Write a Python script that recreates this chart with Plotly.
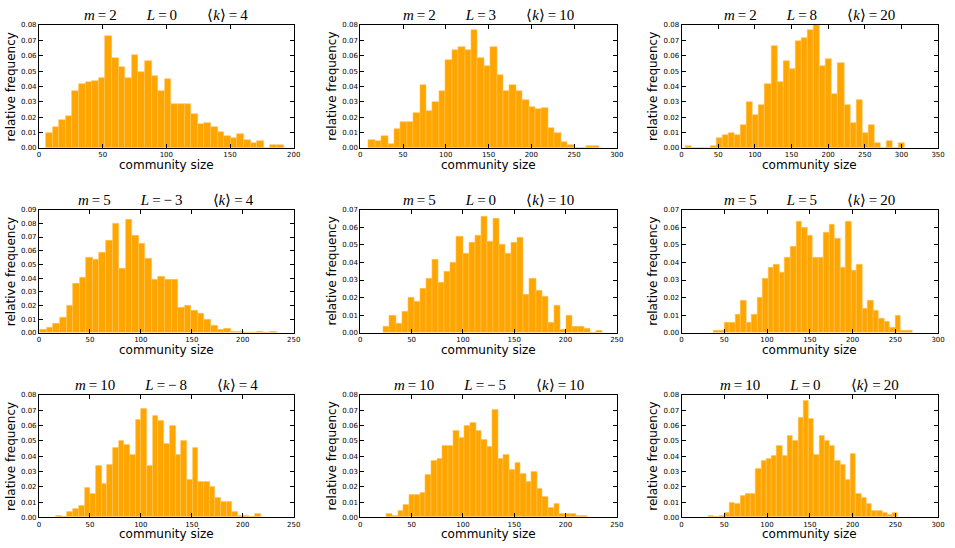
import plotly.graph_objects as go

# relative frequency per bin (36 bins each)
freq_m2_k4 = [0.0096, 0.0135, 0.018, 0.021, 0.037, 0.0413, 0.0428, 0.0436, 0.0458, 0.073,
              0.0586, 0.0526, 0.0458, 0.0607, 0.0494, 0.0563, 0.0466, 0.0368, 0.0449, 0.0287,
              0.0287, 0.0287, 0.0218, 0.0158, 0.0165, 0.0135, 0.0105, 0.0075, 0.0066, 0.009,
              0.0053, 0.003, 0.0047, 0.0, 0.0021, 0.0021]
freq_m2_k10 = [0.0053, 0.0043, 0.008, 0.0027, 0.012, 0.017, 0.017, 0.0225, 0.041, 0.024,
               0.030, 0.037, 0.057, 0.0635, 0.066, 0.0635, 0.077, 0.0585, 0.053, 0.066,
               0.0475, 0.037, 0.041, 0.037, 0.031, 0.0265, 0.025, 0.026, 0.013, 0.010,
               0.0037, 0.0021, 0.0, 0.0, 0.0011, 0.0011]
freq_m2_k20 = [0.0015, 0.0, 0.0, 0.0, 0.0015, 0.0065, 0.0083, 0.0098, 0.0083, 0.015,
               0.030, 0.0215, 0.028, 0.0415, 0.0665, 0.043, 0.0565, 0.0515, 0.0695, 0.0715,
               0.0765, 0.080, 0.053, 0.058, 0.035, 0.055, 0.028, 0.0165, 0.0315, 0.010,
               0.015, 0.0033, 0.0, 0.0048, 0.0, 0.0033]
freq_m5_k4 = [0.002, 0.0035, 0.0065, 0.011, 0.020, 0.036, 0.040, 0.055, 0.0535, 0.0585,
              0.0675, 0.080, 0.047, 0.0825, 0.071, 0.0655, 0.054, 0.0385, 0.041, 0.0385,
              0.0385, 0.0185, 0.0195, 0.016, 0.014, 0.0095, 0.005, 0.002, 0.003, 0.001,
              0.001, 0.0, 0.0, 0.001, 0.0, 0.001]
freq_m5_k10 = [0.0035, 0.0095, 0.005, 0.012, 0.020, 0.018, 0.025, 0.031, 0.0415, 0.0285,
               0.0345, 0.040, 0.0545, 0.045, 0.051, 0.0555, 0.066, 0.052, 0.065, 0.050,
               0.045, 0.051, 0.054, 0.0215, 0.031, 0.024, 0.0205, 0.006, 0.0155, 0.0018,
               0.0095, 0.0037, 0.0037, 0.0022, 0.0, 0.0011]
freq_m5_k20 = [0.0015, 0.0015, 0.006, 0.006, 0.0105, 0.0185, 0.006, 0.0105, 0.020, 0.031,
               0.037, 0.0385, 0.034, 0.043, 0.049, 0.063, 0.060, 0.0555, 0.043, 0.043,
               0.057, 0.0615, 0.0535, 0.037, 0.063, 0.0355, 0.0385, 0.014, 0.0185, 0.0125,
               0.008, 0.0065, 0.0032, 0.0095, 0.0015, 0.0015]
freq_m10_k4 = [0.001, 0.0, 0.0035, 0.0055, 0.0075, 0.019, 0.0155, 0.0335, 0.022, 0.034,
               0.0455, 0.050, 0.0475, 0.041, 0.064, 0.071, 0.0335, 0.0665, 0.063, 0.048,
               0.060, 0.041, 0.050, 0.0245, 0.0455, 0.0235, 0.0235, 0.020, 0.0125, 0.010,
               0.010, 0.0035, 0.0011, 0.0011, 0.0, 0.0022]
freq_m10_k10 = [0.002, 0.001, 0.0045, 0.008, 0.015, 0.015, 0.016, 0.0275, 0.037, 0.038,
                0.047, 0.047, 0.0565, 0.052, 0.060, 0.062, 0.0565, 0.0505, 0.046, 0.0705,
                0.038, 0.0405, 0.031, 0.0355, 0.0285, 0.023, 0.030, 0.0185, 0.0135, 0.0065,
                0.0085, 0.002, 0.002, 0.002, 0.001, 0.001]
freq_m10_k20 = [0.0011, 0.0, 0.0011, 0.0027, 0.0095, 0.0085, 0.014, 0.0155, 0.0155, 0.0315,
                0.037, 0.038, 0.040, 0.047, 0.040, 0.053, 0.050, 0.065, 0.076, 0.0645,
                0.041, 0.0535, 0.050, 0.047, 0.037, 0.0345, 0.0245, 0.0415, 0.0155, 0.0125,
                0.0085, 0.004, 0.004, 0.003, 0.0015, 0.0027]

# first bin edge and bin width (community size units)
bin_start = [5.45, 9.7, 5.9, 1.3, 22.8, 37.0, 16.8, 25.7, 31.7]
bin_width = [5.18, 7.5, 8.3, 6.44, 5.93, 6.46, 5.58, 5.43, 6.15]

m_vals = [2, 2, 2, 5, 5, 5, 10, 10, 10]
L_vals = [0, 3, 8, -3, 0, 5, -8, -5, 0]
k_vals = [4, 10, 20, 4, 10, 20, 4, 10, 20]
x_max = [200, 300, 350, 250, 250, 300, 250, 250, 300]
y_max = [0.08, 0.08, 0.08, 0.09, 0.07, 0.07, 0.08, 0.08, 0.08]

all_freq = [freq_m2_k4, freq_m2_k10, freq_m2_k20,
            freq_m5_k4, freq_m5_k10, freq_m5_k20,
            freq_m10_k4, freq_m10_k10, freq_m10_k20]

W, H = 955, 548
col_px = [(37.3, 294.5), (361.7, 620.7), (686.0, 945.0)]
row_px = [(21.3, 146.0), (208.7, 333.7), (396.7, 521.0)]

tick_font = dict(family='DejaVu Sans', size=7, color='black')
label_font = dict(family='DejaVu Sans', size=12, color='black')
title_font = dict(family='Liberation Serif', size=15, color='black')


def fmt_num(v):
    if v < 0:
        return '\u2212\u2009' + str(-v)
    return str(v)


fig = go.Figure()
annotations = []
gap = '\u00a0' * 8
for i, freq in enumerate(all_freq):
    r, c = divmod(i, 3)
    ax = '' if i == 0 else str(i + 1)
    centers = [bin_start[i] + bin_width[i] * (j + 0.5) for j in range(len(freq))]
    fig.add_trace(go.Bar(
        x=centers, y=freq, width=bin_width[i],
        marker=dict(color='#ffa500', line=dict(color='#ffc457', width=0.6)),
        xaxis='x' + ax, yaxis='y' + ax, showlegend=False, hoverinfo='skip'))

    axis_style = dict(showline=True, linecolor='black', linewidth=1, mirror='allticks',
                      ticks='inside', ticklen=4, tickwidth=1, tickcolor='black',
                      showgrid=False, zeroline=False, tickfont=tick_font, fixedrange=True)
    x0, x1 = col_px[c]
    y0, y1 = row_px[r]
    fig.layout['xaxis' + ax] = dict(axis_style, domain=[x0 / W, x1 / W], range=[0, x_max[i]],
                                    dtick=50, tick0=0, anchor='y' + ax)
    fig.layout['yaxis' + ax] = dict(axis_style, domain=[1 - y1 / H, 1 - y0 / H],
                                    range=[0, y_max[i]], dtick=0.01, tick0=0,
                                    tickformat='.2f', anchor='x' + ax)

    title = ('<i>m</i>\u2009=\u2009%s%s<i>L</i>\u2009=\u2009%s%s\u27e8<i>k</i>\u27e9\u2009=\u2009%s'
             % (m_vals[i], gap, fmt_num(L_vals[i]), gap, k_vals[i]))
    annotations.append(dict(text=title, xref='x%s domain' % ax, yref='y%s domain' % ax,
                            x=0.5, y=1, xanchor='center', yanchor='bottom', yshift=0,
                            showarrow=False, font=title_font))
    annotations.append(dict(text='community size', xref='x%s domain' % ax, yref='y%s domain' % ax,
                            x=0.5, y=0, xanchor='center', yanchor='middle', yshift=-17,
                            showarrow=False, font=label_font))
    annotations.append(dict(text='relative frequency', xref='x%s domain' % ax, yref='y%s domain' % ax,
                            x=0, y=0.5, xanchor='center', yanchor='middle', xshift=-28,
                            textangle=-90, showarrow=False, font=label_font))

fig.update_layout(width=W, height=H, margin=dict(l=0, r=0, t=0, b=0),
                  paper_bgcolor='white', plot_bgcolor='white',
                  annotations=annotations, bargap=0)
# the page body has a default 8px margin; drop it so the figure fills the window
fig.write_html('out.html', config={'displayModeBar': False},
               post_script="document.body.style.margin='0';")
